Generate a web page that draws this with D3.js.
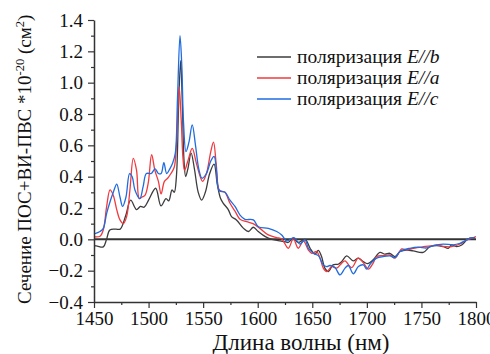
<!DOCTYPE html>
<html>
<head>
<meta charset="utf-8">
</head>
<body style="margin:0">
<svg id="chart" width="490" height="354"></svg>
<script src="https://cdn.jsdelivr.net/npm/d3@7"></script>
<script>
// wavelength (nm) / cross-section (*1e-20 cm^2)
const wlB = [1450, 1453, 1458.5, 1461.5, 1464.5, 1470, 1474, 1479, 1483.6, 1489, 1492.6, 1496, 1500, 1506.5, 1511.4, 1516, 1518.5, 1521.5, 1523.5, 1525.5, 1527.5, 1529.4, 1531, 1532.5, 1534, 1536, 1539, 1542, 1545.5, 1548.6, 1552, 1556, 1560, 1563, 1566, 1568.5, 1573, 1576, 1580.5, 1587, 1591.5, 1596, 1600.5, 1607, 1613, 1620.5, 1625, 1628, 1632.6, 1637, 1643.5, 1648, 1652.5, 1655.5, 1658.5, 1661.5, 1664.8, 1669, 1673.8, 1677, 1681.5, 1687.6, 1692, 1696.6, 1700.5, 1705.8, 1712, 1716.5, 1721, 1725.8, 1730.4, 1736.5, 1742.5, 1751.7, 1757.8, 1764, 1770, 1774.6, 1777.7, 1782.3, 1786.9, 1791.5, 1794.5, 1799];
const valB = [-0.04, -0.043, -0.048, 0.0, 0.06, 0.065, 0.065, 0.15, 0.25, 0.19, 0.21, 0.205, 0.25, 0.326, 0.213, 0.26, 0.245, 0.315, 0.30, 0.40, 0.85, 1.14, 0.85, 0.50, 0.40, 0.45, 0.55, 0.45, 0.30, 0.25, 0.30, 0.42, 0.48, 0.35, 0.26, 0.23, 0.19, 0.145, 0.124, 0.07, 0.05, 0.077, 0.05, 0.017, 0.0, -0.01, -0.015, -0.02, 0.007, -0.02, 0.0, -0.057, -0.095, -0.07, -0.11, -0.184, -0.206, -0.163, -0.159, -0.142, -0.106, -0.138, -0.12, -0.142, -0.155, -0.131, -0.083, -0.095, -0.089, -0.11, -0.078, -0.068, -0.074, -0.083, -0.047, -0.04, -0.047, -0.057, -0.036, -0.047, -0.036, -0.004, 0.007, 0.011];

const wlA = [1450, 1455.5, 1458.5, 1461.6, 1464.7, 1467.7, 1470.8, 1473.8, 1476.8, 1479.9, 1482.9, 1486, 1489, 1491.5, 1494, 1496.7, 1499.7, 1502.8, 1505.8, 1509, 1511.5, 1514.5, 1517.5, 1520.5, 1523.5, 1525.5, 1528, 1530, 1531.5, 1533, 1536, 1540, 1544, 1549.5, 1553, 1557, 1559.5, 1562, 1564.8, 1570, 1574.6, 1579.2, 1583.8, 1589.9, 1595.7, 1602, 1609.7, 1617.4, 1622, 1628, 1632.6, 1637.2, 1641.8, 1646.4, 1649.5, 1654, 1657, 1660.1, 1663.2, 1667.8, 1672.4, 1677, 1680, 1686.1, 1692.2, 1697, 1701.3, 1705.9, 1709, 1715, 1721, 1725.8, 1732, 1736.5, 1742.6, 1751.7, 1760, 1764, 1770, 1777.7, 1785.4, 1791.5, 1796, 1800];
const valA = [0.017, 0.02, 0.06, 0.21, 0.315, 0.28, 0.19, 0.124, 0.10, 0.145, 0.315, 0.517, 0.44, 0.26, 0.27, 0.28, 0.36, 0.54, 0.44, 0.37, 0.29, 0.37, 0.39, 0.42, 0.46, 0.6, 0.974, 0.75, 0.52, 0.44, 0.50, 0.58, 0.48, 0.37, 0.42, 0.56, 0.62, 0.48, 0.315, 0.30, 0.23, 0.18, 0.128, 0.113, 0.10, 0.07, 0.028, 0.011, 0.003, -0.057, 0.003, -0.057, -0.01, -0.068, -0.089, -0.078, -0.117, -0.184, -0.206, -0.174, -0.184, -0.152, -0.138, -0.18, -0.12, -0.152, -0.19, -0.15, -0.11, -0.104, -0.1, -0.12, -0.061, -0.068, -0.057, -0.047, -0.04, -0.036, -0.045, -0.047, -0.03, -0.004, 0.007, 0.017];

const wlC = [1450, 1455.5, 1458.5, 1461.6, 1464.7, 1467.7, 1470.8, 1473.8, 1476.2, 1479.3, 1482.6, 1485, 1487.5, 1492, 1495, 1498, 1502.5, 1506, 1509, 1511.5, 1514, 1516.6, 1519.5, 1522, 1524.5, 1526.5, 1528.8, 1530.5, 1532, 1534.3, 1537, 1540, 1543, 1546, 1549, 1553, 1557, 1560, 1562.5, 1564.8, 1570, 1574.6, 1579.2, 1583.8, 1588.3, 1596, 1600.6, 1609.7, 1617.4, 1622, 1626.6, 1633.2, 1638.7, 1643.3, 1646.4, 1651, 1655.5, 1660.1, 1663.2, 1666.2, 1670.8, 1675.4, 1680, 1683, 1687.6, 1692.2, 1696.8, 1699.8, 1703, 1709, 1715, 1721.2, 1725.8, 1730.4, 1739.5, 1747.2, 1754.8, 1760.9, 1770, 1779.2, 1785.4, 1790, 1794.5, 1799];
const valC = [0.034, 0.05, 0.07, 0.166, 0.24, 0.30, 0.353, 0.27, 0.21, 0.27, 0.42, 0.40, 0.315, 0.26, 0.336, 0.42, 0.42, 0.45, 0.42, 0.42, 0.49, 0.42, 0.45, 0.485, 0.55, 0.9, 1.30, 1.1, 0.75, 0.56, 0.62, 0.73, 0.60, 0.45, 0.39, 0.42, 0.50, 0.53, 0.42, 0.31, 0.30, 0.25, 0.21, 0.155, 0.128, 0.124, 0.08, 0.07, 0.05, 0.028, -0.01, 0.011, -0.03, -0.003, -0.057, -0.089, -0.104, -0.163, -0.174, -0.167, -0.18, -0.227, -0.184, -0.167, -0.22, -0.174, -0.163, -0.19, -0.159, -0.12, -0.11, -0.106, -0.117, -0.078, -0.057, -0.05, -0.055, -0.04, -0.03, -0.035, -0.025, -0.01, 0.007, 0.011];

const xTicks = [1450, 1500, 1550, 1600, 1650, 1700, 1750, 1800];
const yTicks = [-0.4, -0.2, 0.0, 0.2, 0.4, 0.6, 0.8, 1.0, 1.2, 1.4];
const legendItems = ["b", "a", "c"];

const FONT = "Liberation Serif";
const AXIS = "#333333";
const colors = { b: "#3c3c3c", a: "#f03a3e", c: "#1f6be0" };

const margin = { left: 94, right: 14, top: 20, bottom: 52 };
const width = 490, height = 354;

const x = d3.scaleLinear().domain([1450, 1800]).range([margin.left, width - margin.right]);
const y = d3.scaleLinear().domain([-0.4, 1.4]).range([height - margin.bottom, margin.top]);

const svg = d3.select("#chart");

// zero line
svg.append("line")
  .attr("x1", x(1450)).attr("x2", x(1800))
  .attr("y1", y(0)).attr("y2", y(0))
  .attr("stroke", AXIS)
  .attr("stroke-width", 2);

// curves
const line = d3.line()
  .x(d => x(d[0]))
  .y(d => y(d[1]))
  .curve(d3.curveCatmullRom.alpha(0.5));

const series = [
  { key: "b", wl: wlB, val: valB },
  { key: "a", wl: wlA, val: valA },
  { key: "c", wl: wlC, val: valC }
];

series.forEach(s => {
  svg.append("path")
    .datum(s.wl.map((w, i) => [w, s.val[i]]))
    .attr("fill", "none")
    .attr("stroke", colors[s.key])
    .attr("stroke-width", 1.3)
    .attr("stroke-linejoin", "round")
    .attr("d", line);
});

// axes (minor ticks first, then labelled ones)
const minorX = d3.range(1475, 1800, 50);
const minorY = d3.range(-0.3, 1.4, 0.2);

const gxm = svg.append("g").attr("transform", `translate(0,${y(-0.4)})`)
  .call(d3.axisBottom(x).tickValues(minorX).tickSize(3).tickFormat(""));
gxm.select(".domain").remove();
const gx = svg.append("g").attr("transform", `translate(0,${y(-0.4)})`)
  .call(d3.axisBottom(x).tickValues(xTicks).tickSize(6).tickSizeOuter(0).tickPadding(4).tickFormat(d3.format("d")));

const gym = svg.append("g").attr("transform", `translate(${x(1450)},0)`)
  .call(d3.axisLeft(y).tickValues(minorY).tickSize(3).tickFormat(""));
gym.select(".domain").remove();
const gy = svg.append("g").attr("transform", `translate(${x(1450)},0)`)
  .call(d3.axisLeft(y).tickValues(yTicks).tickSize(6).tickSizeOuter(0).tickPadding(5).tickFormat(d3.format(".1f")));

[gx, gy].forEach(g => g.attr("font-family", FONT).attr("font-size", 19));
svg.selectAll(".domain").attr("stroke", AXIS).attr("stroke-width", 1.5);
svg.selectAll(".tick line").attr("stroke", AXIS).attr("stroke-width", 1.2);
svg.selectAll(".tick text").attr("fill", "#111");

// axis titles
svg.append("text")
  .attr("x", 301)
  .attr("y", 350)
  .attr("text-anchor", "middle")
  .attr("fill", "#111")
  .attr("font-family", FONT)
  .attr("font-size", 23)
  .text("Длина волны (нм)");

const yl = svg.append("text")
  .attr("transform", "translate(31,304) rotate(-90)")
  .attr("text-anchor", "start")
  .attr("fill", "#111")
  .attr("font-family", FONT)
  .attr("font-size", 19);
yl.append("tspan").text("Сечение ПОС+ВИ-ПВС *10");
yl.append("tspan").attr("dy", -7).attr("font-size", 12.5).text("-20");
yl.append("tspan").attr("dy", 7).text(" (см");
yl.append("tspan").attr("dy", -7).attr("font-size", 12.5).text("2");
yl.append("tspan").attr("dy", 7).text(")");

// legend
const legend = svg.append("g");
legendItems.forEach((k, i) => {
  const ly = 57 + i * 21;
  legend.append("line")
    .attr("x1", 257).attr("x2", 291)
    .attr("y1", ly).attr("y2", ly)
    .attr("stroke", colors[k])
    .attr("stroke-width", 1.3);
  const t = legend.append("text")
    .attr("x", 297).attr("y", ly + 6)
    .attr("fill", "#111")
    .attr("font-family", FONT)
    .attr("font-size", 19.5);
  t.append("tspan").text("поляризация ");
  t.append("tspan").attr("font-style", "italic").text("E//" + k);
});
</script>
</body>
</html>
